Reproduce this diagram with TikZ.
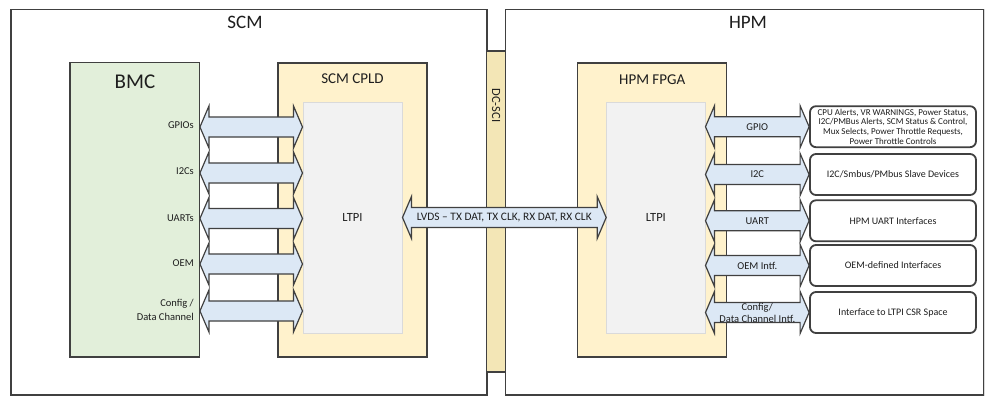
\documentclass[tikz,border=0pt]{standalone}
\usepackage{fontspec}
\setmainfont{Carlito}
\usepackage{xcolor}
\usepackage{tikz}
\usetikzlibrary{arrows.meta, positioning}
\usetikzlibrary{calc}

\definecolor{edgegray}{HTML}{404040}
\definecolor{txtgray}{HTML}{1E1E1E}
\definecolor{bmcgreen}{HTML}{E2EFDA}
\definecolor{cpldyellow}{HTML}{FFF2CC}
\definecolor{scitan}{HTML}{F3E6B6}
\definecolor{ltpigray}{HTML}{F2F2F2}
\definecolor{ltpiedge}{HTML}{DADADA}
\definecolor{busblue}{HTML}{DCE8F5}

\tikzset{
  board/.style={draw=edgegray, line width=1.3pt, fill=white, inner sep=0pt},
  chip/.style={draw=edgegray, line width=1.3pt, inner sep=0pt},
  core/.style={draw=ltpiedge, line width=1pt, fill=ltpigray, inner sep=0pt,
    text=txtgray, font=\fontsize{12.5}{14}\selectfont},
  ifbox/.style={draw=edgegray, line width=1.8pt, fill=white, rounded corners=6pt,
    minimum width=166pt, minimum height=41pt, inner sep=0pt, align=center,
    text=txtgray, font=\fontsize{10}{11}\selectfont},
  busline/.style={draw=edgegray, line width=1.2pt, fill=busblue, line join=miter},
  bustext/.style={text=txtgray, font=\fontsize{10.5}{12}\selectfont, align=center, inner sep=0pt},
  sigtext/.style={text=txtgray, font=\fontsize{10.5}{14}\selectfont, align=right, anchor=east, inner sep=0pt},
  title/.style={text=txtgray, inner sep=0pt}
}

\newcommand\linkarrow[3]{%
  \draw[busline] let \p1=(#1), \p2=(#2) in
    (\x1,\y1) -- (\x1+9pt,\y1+21pt) -- (\x1+9pt,\y1+10pt) -- (\x2-9pt,\y2+10pt)
    -- (\x2-9pt,\y2+21pt) -- (\x2,\y2) -- (\x2-9pt,\y2-21pt) -- (\x2-9pt,\y2-10pt)
    -- (\x1+9pt,\y1-10pt) -- (\x1+9pt,\y1-21pt) -- cycle;
  \path (#1) -- node[bustext] {#3} (#2);}

\begin{document}
\begin{tikzpicture}[x=1pt, y=-1pt]
\useasboundingbox (0,0) rectangle (989,397);
\node[board, minimum width=476pt, minimum height=385.5pt] (scm) at (249,202.25) {};
\node[board, minimum width=478.3pt, minimum height=385.5pt] (hpm) at (744.85,202.25) {};
\draw[ltpiedge, line width=1.3pt] (hpm.north east) -- (hpm.south east);
\node[title, font=\fontsize{19}{21}\selectfont] (scmname) at (245,22) {SCM};
\node[title, font=\fontsize{19}{21}\selectfont] (hpmname) at (748,22) {HPM};

\node[chip, fill=scitan, minimum width=19pt, minimum height=321pt] (dcsci) at (496.2,211.5) {};
\node[title, rotate=-90, font=\fontsize{12.5}{13}\selectfont] (dcscitext) at (496.2,105.5) {DC-SCI};

\node[chip, fill=bmcgreen, minimum width=129.3pt, minimum height=294.3pt] (bmc) at (134.65,209.85) {};
\node[title, font=\fontsize{21}{23}\selectfont] (bmcname) at (135,82) {BMC};
\node[chip, fill=cpldyellow, minimum width=149pt, minimum height=294pt] (cpld) at (352.5,210) {};
\node[title, font=\fontsize{15}{17}\selectfont] (cpldname) at (352.5,79) {SCM CPLD};
\node[core, minimum width=99pt, minimum height=231pt] (ltpiL) at (352.5,217.5) {LTPI};

\node[chip, fill=cpldyellow, minimum width=149pt, minimum height=294pt] (fpga) at (652.2,210) {};
\node[title, font=\fontsize{15}{17}\selectfont] (fpganame) at (652.2,80) {HPM FPGA};
\node[core, minimum width=98.3pt, minimum height=231pt] (ltpiR) at (655.85,217.5) {LTPI};

\node[ifbox, font=\fontsize{9}{9.6}\selectfont] (gpiobox) at (893,126.7) {CPU Alerts, VR WARNINGS, Power Status,\\I2C/PMBus Alerts, SCM Status \& Control,\\Mux Selects, Power Throttle Requests,\\Power Throttle Controls};
\node[ifbox] (i2cbox) at (893,174.5) {I2C/Smbus/PMbus Slave Devices};
\node[ifbox] (uartbox) at (893,220.8) {HPM UART Interfaces};
\node[ifbox] (oembox) at (893,265.5) {OEM-defined Interfaces};
\node[ifbox] (cfgbox) at (893,312.5) {Interface to LTPI CSR Space};

\linkarrow{bmc.east |- 0,127}{ltpiL.west |- 0,127}{}
\linkarrow{bmc.east |- 0,173}{ltpiL.west |- 0,173}{}
\linkarrow{bmc.east |- 0,218.5}{ltpiL.west |- 0,218.5}{}
\linkarrow{bmc.east |- 0,264}{ltpiL.west |- 0,264}{}
\linkarrow{bmc.east |- 0,311}{ltpiL.west |- 0,311}{}

\node[sigtext] (gpios) at (194,125) {GPIOs};
\node[sigtext] (i2cs) at (194,171.5) {I2Cs};
\node[sigtext] (uarts) at (194,218) {UARTs};
\node[sigtext] (oem) at (194,263) {OEM};
\node[sigtext] (cfg) at (194,310) {Config /\\Data Channel};

\linkarrow{ltpiL.east}{ltpiR.west}{\fontsize{11.4}{13}\selectfont LVDS – TX DAT, TX CLK, RX DAT, RX CLK}

\linkarrow{ltpiR.east |- gpiobox}{gpiobox.west}{GPIO}
\linkarrow{ltpiR.east |- i2cbox}{i2cbox.west}{I2C}
\linkarrow{ltpiR.east |- uartbox}{uartbox.west}{UART}
\linkarrow{ltpiR.east |- oembox}{oembox.west}{OEM Intf.}
\linkarrow{ltpiR.east |- cfgbox}{cfgbox.west}{Config/\\Data Channel Intf.}
\end{tikzpicture}
\end{document}
